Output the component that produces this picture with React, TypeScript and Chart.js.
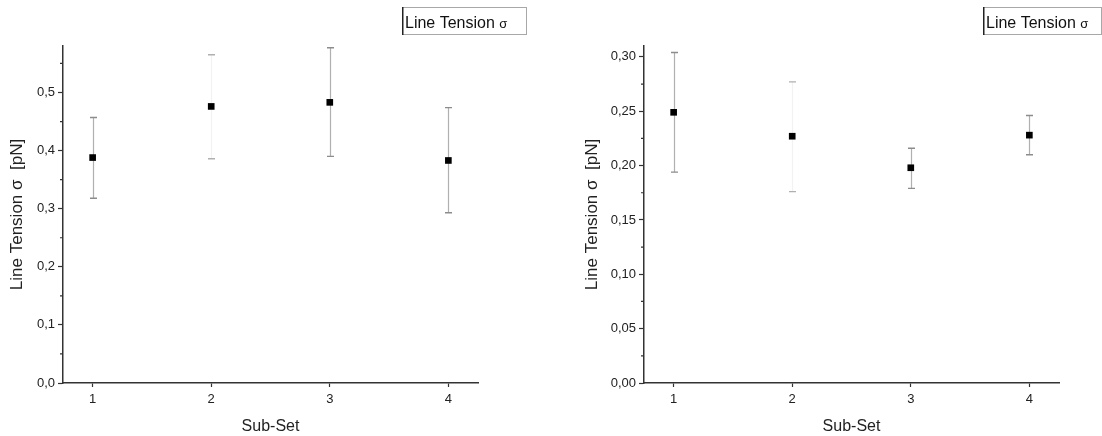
import React, { useEffect, useRef } from 'react';
import { Chart, registerables } from 'chart.js';

Chart.register(...registerables);

// ---- data ----
const subSets = [1, 2, 3, 4];
const xTickValues = [1, 2, 3, 4];
const xRange = [0.75, 4.25];

const leftTension = [0.388, 0.476, 0.483, 0.383];
const leftErrLow = [0.318, 0.386, 0.39, 0.293];
const leftErrHigh = [0.457, 0.565, 0.577, 0.474];
const leftYTicks = [0, 0.1, 0.2, 0.3, 0.4, 0.5];
const leftYMinor = [0.05, 0.15, 0.25, 0.35, 0.45, 0.55];
const leftYMax = 0.58;

const rightTension = [0.249, 0.227, 0.198, 0.228];
const rightErrLow = [0.194, 0.176, 0.179, 0.21];
const rightErrHigh = [0.304, 0.277, 0.216, 0.246];
const rightYTicks = [0, 0.05, 0.1, 0.15, 0.2, 0.25, 0.3];
const rightYMinor = [0.025, 0.075, 0.125, 0.175, 0.225, 0.275];
const rightYMax = 0.31;

const legendLabel = 'Line Tension';
const legendSymbol = 'σ';
const yTitle = 'Line Tension σ  [pN]';
const xTitle = 'Sub-Set';

// ---- styles ----
const FONT = 'Arial, "Liberation Sans", sans-serif';
const stemColors = ['#b0b0b0', '#f2f2f2', '#b0b0b0', '#b0b0b0'];
const capColors = ['#8c8c8c', '#b0b0b0', '#8c8c8c', '#8c8c8c'];

type PanelCfg = {
  values: number[];
  low: number[];
  high: number[];
  yTicks: number[];
  yMinor: number[];
  yMax: number;
  decimals: number;
  yAxisWidth: number;
  rightPad: number;
  yTitlePad: number;
  legendBox: [number, number, number, number];
};

function fmt(v: number, d: number) {
  return v.toFixed(d).replace('.', ',');
}

function Panel({ cfg }: { cfg: PanelCfg }) {
  const ref = useRef<HTMLCanvasElement | null>(null);
  useEffect(() => {
    const canvas = ref.current;
    if (!canvas) return;

    const errorBars = {
      id: 'errorBars',
      beforeDatasetsDraw(chart: any) {
        const { ctx } = chart;
        const xs = chart.scales.x;
        const ys = chart.scales.y;
        ctx.save();
        subSets.forEach((s, i) => {
          const x = Math.round(xs.getPixelForValue(s)) + 0.5;
          const yl = ys.getPixelForValue(cfg.low[i]);
          const yh = ys.getPixelForValue(cfg.high[i]);
          ctx.strokeStyle = stemColors[i];
          ctx.lineWidth = 1.2;
          ctx.beginPath();
          ctx.moveTo(x, yl);
          ctx.lineTo(x, yh);
          ctx.stroke();
          ctx.strokeStyle = capColors[i];
          ctx.lineWidth = 1.4;
          ctx.beginPath();
          ctx.moveTo(x - 3.5, yl);
          ctx.lineTo(x + 3.5, yl);
          ctx.moveTo(x - 3.5, yh);
          ctx.lineTo(x + 3.5, yh);
          ctx.stroke();
        });
        ctx.restore();
      },
    };

    const extras = {
      id: 'extras',
      afterDraw(chart: any) {
        const { ctx, chartArea } = chart;
        const ys = chart.scales.y;
        ctx.save();
        ctx.strokeStyle = '#333';
        ctx.lineWidth = 1.2;
        ctx.beginPath();
        cfg.yMinor.forEach((v) => {
          const y = ys.getPixelForValue(v);
          ctx.moveTo(chartArea.left - 3, y);
          ctx.lineTo(chartArea.left, y);
        });
        ctx.stroke();

        const [bx, by, bw, bh] = cfg.legendBox;
        ctx.fillStyle = '#fff';
        ctx.fillRect(bx, by, bw, bh);
        ctx.strokeStyle = '#a8a8a8';
        ctx.lineWidth = 1;
        ctx.strokeRect(bx + 0.5, by + 0.5, bw - 1, bh - 1);
        ctx.strokeStyle = '#222';
        ctx.lineWidth = 1.5;
        ctx.beginPath();
        ctx.moveTo(bx + 0.75, by);
        ctx.lineTo(bx + 0.75, by + bh);
        ctx.stroke();

        ctx.fillStyle = '#111';
        ctx.textBaseline = 'alphabetic';
        ctx.textAlign = 'left';
        ctx.font = `16px ${FONT}`;
        const tx = bx + 3;
        const ty = by + 21;
        ctx.fillText(legendLabel + ' ', tx, ty);
        const w = ctx.measureText(legendLabel + ' ').width;
        ctx.font = `13px ${FONT}`;
        ctx.fillText(legendSymbol, tx + w, ty);
        ctx.restore();
      },
    };

    const chart = new Chart(canvas, {
      type: 'scatter',
      data: {
        datasets: [
          {
            data: subSets.map((x, i) => ({ x, y: cfg.values[i] })),
            pointStyle: 'rect',
            pointRadius: 4.7,
            pointBackgroundColor: '#000',
            pointBorderWidth: 0,
            showLine: false,
          },
        ],
      },
      options: {
        responsive: false,
        animation: false,
        layout: { padding: { top: 46, right: cfg.rightPad, left: 0, bottom: 0 } },
        plugins: { legend: { display: false }, tooltip: { enabled: false } },
        scales: {
          x: {
            type: 'linear',
            min: xRange[0],
            max: xRange[1],
            afterBuildTicks: (s: any) => {
              s.ticks = xTickValues.map((v) => ({ value: v }));
            },
            afterFit: (s: any) => {
              s.height = 53;
              s.paddingLeft = 0;
              s.paddingRight = 0;
            },
            grid: { drawOnChartArea: false, tickLength: 4, tickColor: '#333', tickWidth: 1.2 },
            border: { color: '#333', width: 1.5 },
            ticks: {
              font: { family: FONT, size: 13 },
              color: '#222',
              padding: 5,
              callback: (v: any) => String(v),
            },
            title: {
              display: true,
              text: xTitle,
              font: { family: FONT, size: 16 },
              color: '#222',
              padding: { top: 0, bottom: 0 },
            },
          },
          y: {
            type: 'linear',
            min: 0,
            max: cfg.yMax,
            afterBuildTicks: (s: any) => {
              s.ticks = cfg.yTicks.map((v) => ({ value: v }));
            },
            afterFit: (s: any) => {
              s.width = cfg.yAxisWidth;
              s.paddingTop = 0;
              s.paddingBottom = 0;
            },
            grid: { drawOnChartArea: false, tickLength: 5, tickColor: '#333', tickWidth: 1.2 },
            border: { color: '#333', width: 1.5 },
            ticks: {
              font: { family: FONT, size: 13 },
              color: '#222',
              padding: 3,
              callback: (v: any) => fmt(Number(v), cfg.decimals),
            },
            title: {
              display: true,
              text: yTitle,
              font: { family: FONT, size: 17 },
              color: '#222',
              padding: { top: cfg.yTitlePad, bottom: 0 },
            },
          },
        },
      },
      plugins: [errorBars, extras],
    } as any);
    return () => chart.destroy();
  }, [cfg]);
  return <canvas ref={ref} width={551} height={436} style={{ width: 551, height: 436, display: 'block' }} />;
}

const leftCfg: PanelCfg = {
  values: leftTension,
  low: leftErrLow,
  high: leftErrHigh,
  yTicks: leftYTicks,
  yMinor: leftYMinor,
  yMax: leftYMax,
  decimals: 1,
  yAxisWidth: 63,
  rightPad: 73,
  yTitlePad: 7,
  legendBox: [402, 7, 125, 28],
};

const rightCfg: PanelCfg = {
  values: rightTension,
  low: rightErrLow,
  high: rightErrHigh,
  yTicks: rightYTicks,
  yMinor: rightYMinor,
  yMax: rightYMax,
  decimals: 2,
  yAxisWidth: 93,
  rightPad: 43,
  yTitlePad: 31,
  legendBox: [432, 7, 119, 28],
};

export default function App() {
  return (
    <div style={{ position: 'fixed', left: 0, top: 0, width: 1102, height: 436, background: '#fff', display: 'flex' }}>
      <Panel cfg={leftCfg} />
      <Panel cfg={rightCfg} />
    </div>
  );
}
